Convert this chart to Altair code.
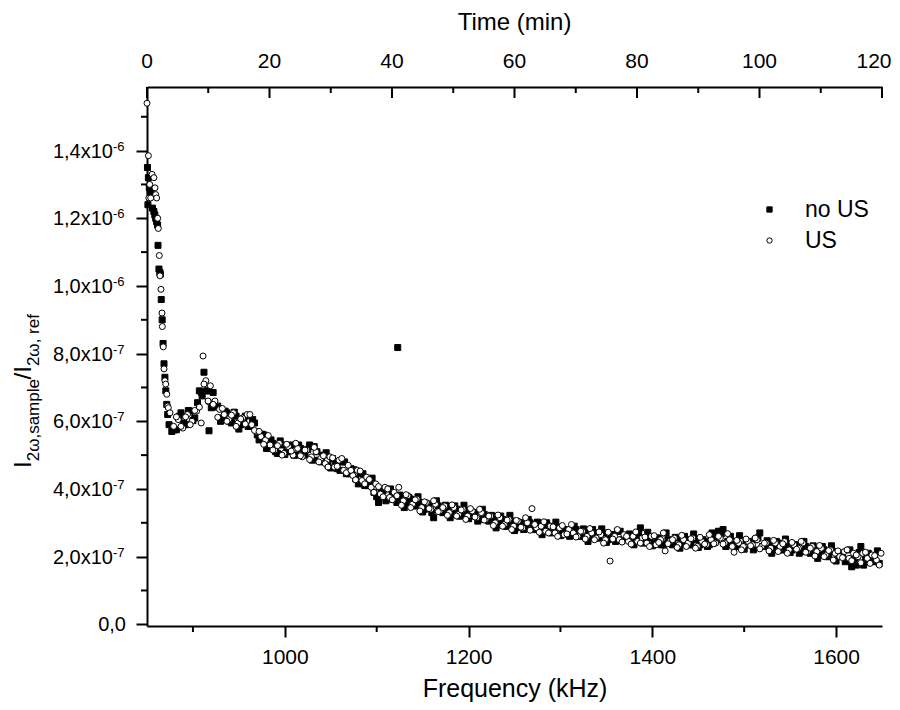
import altair as alt
import pandas as pd

FONT = "Liberation Sans"

# ---------------- data (ratio values in units of 1e-7) ----------------
series_names = ["no US", "US"]

noUS_start_f = [850.5, 851, 851.5, 852.5, 853.5, 855, 856, 857.5, 858.5, 859.5,
                860.5, 861.5, 862, 863, 864, 864.5, 865.5, 866.5, 867.5, 868.5,
                869.5, 870.5, 871.5, 872.5, 874]
noUS_start_v = [13.5, 12.4, 13.2, 12.9, 12.8, 12.7, 12.3, 12.2, 12.1, 12.0,
                11.9, 11.8, 11.2, 10.5, 10.4, 10.35, 9.6, 9.0, 8.3, 7.7,
                7.3, 6.9, 6.5, 6.2, 5.9]
noUS_band_f = list(range(877, 1648, 5))
noUS_band_v = [
    5.70, 5.75, 6.25, 5.90, 6.30, 6.10, 6.90, 7.45, 6.90, 6.85,
    6.45, 6.10, 6.25, 5.95, 6.15, 5.90, 6.15, 5.85, 5.95, 5.45,
    5.60, 5.20, 5.35, 5.05, 5.30, 5.10, 5.30, 5.00, 5.20, 5.00,
    5.30, 5.25, 4.85, 5.00, 4.70, 4.90, 4.60, 4.80, 4.45, 4.60,
    4.30, 4.45, 4.10, 4.20, 3.90, 3.60, 3.95, 3.70, 3.85, 3.60,
    3.75, 3.55, 3.70, 3.50, 3.60, 3.40, 3.55, 3.15, 3.50, 3.30,
    3.45, 3.25, 3.40, 3.20, 3.35, 3.20, 3.30, 3.10, 3.25, 3.05,
    3.15, 2.95, 3.10, 2.90, 3.05, 2.85, 3.00, 2.85, 3.00, 2.80,
    2.95, 2.80, 2.90, 2.75, 2.85, 2.70, 2.80, 2.65, 2.80, 2.60,
    2.75, 2.60, 2.70, 2.55, 2.70, 2.50, 2.65, 2.75, 2.50, 2.60,
    2.45, 2.60, 2.85, 2.45, 2.55, 2.40, 2.55, 2.35, 2.50, 2.35,
    2.55, 2.40, 2.50, 2.35, 2.50, 2.35, 2.45, 2.35, 2.60, 2.75,
    2.80, 2.45, 2.35, 2.45, 2.30, 2.45, 2.35, 2.50, 2.70, 2.30,
    2.40, 2.25, 2.40, 2.20, 2.35, 2.20, 2.35, 2.15, 2.30, 2.10,
    2.25, 2.05, 2.20, 2.00, 2.15, 2.00, 2.10, 1.90, 1.70, 1.75,
    2.30, 1.95, 1.85, 2.00, 1.80,
]
noUS_band2_f = list(range(880, 1646, 5))
noUS_band2_v = [
    5.75, 6.15, 5.95, 6.32, 6.02, 6.55, 6.75, 6.90, 6.40, 6.42,
    6.00, 6.30, 6.00, 6.27, 5.77, 6.05, 5.85, 6.05, 5.60, 5.62,
    5.20, 5.45, 5.10, 5.42, 5.02, 5.25, 5.00, 5.30, 5.05, 5.17,
    4.85, 5.10, 4.80, 5.07, 4.62, 4.80, 4.55, 4.80, 4.45, 4.57,
    4.15, 4.45, 4.10, 4.32, 3.77, 3.90, 3.65, 4.00, 3.70, 3.82,
    3.45, 3.75, 3.50, 3.77, 3.32, 3.55, 3.30, 3.65, 3.35, 3.52,
    3.15, 3.50, 3.20, 3.52, 3.12, 3.30, 3.05, 3.40, 3.10, 3.22,
    2.85, 3.20, 2.90, 3.22, 2.77, 3.00, 2.80, 3.10, 2.85, 3.02,
    2.65, 3.00, 2.70, 3.02, 2.62, 2.80, 2.60, 2.90, 2.65, 2.82,
    2.45, 2.80, 2.55, 2.82, 2.42, 2.65, 2.45, 2.75, 2.50, 2.67,
    2.35, 2.70, 2.40, 2.72, 2.32, 2.55, 2.35, 2.70, 2.40, 2.57,
    2.25, 2.60, 2.35, 2.67, 2.27, 2.50, 2.30, 2.70, 2.50, 2.67,
    2.30, 2.60, 2.30, 2.62, 2.22, 2.45, 2.20, 2.55, 2.30, 2.47,
    2.10, 2.45, 2.20, 2.52, 2.12, 2.35, 2.10, 2.45, 2.15, 2.32,
    1.95, 2.30, 2.00, 2.32, 1.87, 2.10, 1.85, 2.20, 1.95, 2.12,
    1.75, 2.10, 1.85, 2.17,
]
noUS_extra_f = [909.5, 917.5, 1122.9]
noUS_extra_v = [6.85, 5.72, 8.18]

US_start_f = [850, 851.5, 852, 853, 854, 855.5, 857.5, 858.7, 859.5, 860.5,
              861.6, 862.3, 863.4, 864.1, 865.2, 866.3, 866.7, 867.7, 868.5, 869.5,
              870.4, 871.5, 872.5, 873.2, 875]
US_start_v = [15.4, 13.85, 12.6, 13.0, 12.6, 13.3, 13.2, 12.9, 12.7, 12.6,
              12.0, 11.7, 10.9, 10.3, 9.9, 9.2, 8.8, 8.2, 7.55, 7.2,
              7.1, 6.8, 6.45, 6.4, 6.25]
US_band_f = list(range(879, 1650, 5))
US_band_v = [
    5.85, 6.05, 5.80, 6.20, 6.00, 6.30, 5.95, 7.20, 7.05, 6.60,
    6.35, 6.20, 6.05, 6.25, 5.95, 6.10, 6.20, 5.90, 5.70, 5.55,
    5.45, 5.30, 5.15, 5.35, 5.05, 5.25, 5.00, 5.20, 4.95, 5.15,
    4.95, 5.10, 4.90, 4.75, 4.95, 4.65, 4.85, 4.55, 4.70, 4.40,
    4.55, 4.25, 4.35, 4.05, 4.15, 3.85, 4.05, 3.75, 3.90, 4.05,
    3.65, 3.80, 3.55, 3.70, 3.45, 3.60, 3.40, 3.55, 3.35, 3.50,
    3.30, 3.45, 3.25, 3.40, 3.20, 3.35, 3.15, 3.30, 3.10, 3.20,
    3.00, 3.15, 2.95, 3.10, 2.90, 3.05, 2.85, 3.00, 3.42, 2.85,
    2.90, 2.75, 2.90, 2.70, 2.85, 2.65, 2.80, 2.70, 2.60, 2.75,
    2.60, 2.70, 2.55, 2.65, 2.50, 1.87, 2.60, 2.50, 2.65, 2.45,
    2.60, 2.45, 2.55, 2.40, 2.60, 2.35, 2.50, 2.17, 2.45, 2.55,
    2.35, 2.50, 2.40, 2.55, 2.30, 2.45, 2.35, 2.50, 2.40, 2.55,
    2.40, 2.50, 2.13, 2.40, 2.30, 2.45, 2.35, 2.50, 2.30, 2.40,
    2.25, 2.40, 2.30, 2.45, 2.20, 2.35, 2.25, 2.40, 2.15, 2.30,
    2.15, 2.25, 2.05, 2.20, 2.10, 2.00, 2.15, 1.95, 2.10, 2.00,
    2.10, 1.95, 2.05, 1.90, 2.10,
]
US_band2_f = list(range(882, 1648, 5))
US_band2_v = [
    6.13, 5.85, 6.13, 5.90, 6.32, 6.42, 7.10, 6.58, 6.50, 6.12,
    6.38, 6.00, 6.18, 5.85, 6.07, 5.92, 6.20, 5.73, 5.70, 5.32,
    5.58, 5.15, 5.28, 5.00, 5.32, 5.12, 5.35, 4.98, 5.15, 4.87,
    5.23, 4.80, 4.98, 4.65, 4.92, 4.67, 4.90, 4.48, 4.55, 4.27,
    4.53, 4.15, 4.28, 3.90, 4.07, 3.77, 4.00, 3.68, 3.80, 3.52,
    3.83, 3.45, 3.68, 3.35, 3.62, 3.42, 3.65, 3.33, 3.45, 3.22,
    3.53, 3.20, 3.38, 3.10, 3.42, 3.17, 3.40, 3.08, 3.20, 2.92,
    3.23, 2.90, 3.08, 2.80, 3.07, 2.87, 3.15, 2.78, 2.95, 2.72,
    3.03, 2.70, 2.88, 2.60, 2.92, 2.67, 2.95, 2.58, 2.75, 2.52,
    2.83, 2.50, 2.73, 2.40, 2.72, 2.52, 2.80, 2.43, 2.60, 2.37,
    2.73, 2.40, 2.58, 2.30, 2.62, 2.42, 2.70, 2.38, 2.50, 2.27,
    2.63, 2.30, 2.53, 2.25, 2.57, 2.37, 2.65, 2.38, 2.60, 2.37,
    2.68, 2.30, 2.48, 2.20, 2.52, 2.32, 2.55, 2.23, 2.40, 2.17,
    2.48, 2.15, 2.38, 2.10, 2.42, 2.22, 2.45, 2.13, 2.25, 2.02,
    2.33, 2.00, 2.18, 1.90, 2.17, 1.97, 2.20, 1.88, 2.05, 1.82,
    2.13, 1.80, 2.03, 1.75,
]
US_extra_f = [911, 916.5]
US_extra_v = [7.93, 6.6]

# axis tick values and labels
freq_major = [1000, 1200, 1400, 1600]
freq_minor = [900, 1100, 1300, 1500]
time_major = [0, 20, 40, 60, 80, 100, 120]
time_labels = ["0", "20", "40", "60", "80", "100", "120"]
time_minor = [10, 30, 50, 70, 90, 110]
y_major = [0.0, 2e-7, 4e-7, 6e-7, 8e-7, 1.0e-6, 1.2e-6, 1.4e-6]
y_minor = [1e-7, 3e-7, 5e-7, 7e-7, 9e-7, 1.1e-6, 1.3e-6, 1.5e-6]
y_mant = ["0,0", "2,0x10", "4,0x10", "6,0x10", "8,0x10", "1,0x10", "1,2x10", "1,4x10"]
y_exp = ["", "-7", "-7", "-7", "-7", "-6", "-6", "-6"]
ytitle_parts = ["I", "2\u03c9,sample", "/", "I", "2\u03c9, ref"]
top_title = "Time (min)"

x_domain = [850, 1650]
time_domain = [0, 120]
y_domain = [-0.05e-7, 15.88e-7]

# ---------------- tables ----------------
rows = []
for name, fs, vs in [
    ("no US",
     noUS_start_f + noUS_band_f + noUS_band2_f + noUS_extra_f,
     noUS_start_v + noUS_band_v + noUS_band2_v + noUS_extra_v),
    ("US",
     US_start_f + US_band_f + US_band2_f + US_extra_f,
     US_start_v + US_band_v + US_band2_v + US_extra_v),
]:
    for f, v in zip(fs, vs):
        rows.append({"freq": f, "ratio": v * 1e-7, "series": name})
df = pd.DataFrame(rows)

ylab = pd.DataFrame({"ratio": y_major, "mant": y_mant, "exp": y_exp})
tlab = pd.DataFrame({"t": time_major, "lab": time_labels})

W, H = 735, 539
xs = alt.Scale(domain=x_domain, nice=False, zero=False)
ys = alt.Scale(domain=y_domain, nice=False, zero=False)
ts = alt.Scale(domain=time_domain, nice=False, zero=False)
XT = "Frequency (kHz)"

points = alt.Chart(df).mark_point(filled=True, size=36, strokeWidth=1, opacity=1).encode(
    x=alt.X("freq:Q", scale=xs, title=XT,
            axis=alt.Axis(values=freq_major, format="d", tickSize=11, labelPadding=9,
                          labelFontSize=21, labelFlush=False, labelOverlap=False,
                          titleFontSize=25, titlePadding=9, titleFontWeight="normal")),
    y=alt.Y("ratio:Q", scale=ys, title=None,
            axis=alt.Axis(values=y_major, tickSize=11, labels=False)),
    shape=alt.Shape("series:N", scale=alt.Scale(domain=series_names, range=["square", "circle"]),
                    legend=alt.Legend(title=None)),
    fill=alt.Fill("series:N", scale=alt.Scale(domain=series_names, range=["black", "white"]),
                  legend=alt.Legend(title=None)),
    stroke=alt.Stroke("series:N", scale=alt.Scale(domain=series_names, range=["black", "black"]),
                      legend=alt.Legend(title=None)),
)

x_minor = alt.Chart(pd.DataFrame({"freq": freq_minor})).mark_rule(color="black", strokeWidth=2).encode(
    x=alt.X("freq:Q", scale=xs, title=XT), y=alt.value(H), y2=alt.value(H + 6))

y_minor_l = alt.Chart(pd.DataFrame({"ratio": y_minor})).mark_rule(color="black", strokeWidth=2).encode(
    y=alt.Y("ratio:Q", scale=ys, title=None), x=alt.value(-6), x2=alt.value(0))

ylab_main = alt.Chart(ylab).transform_filter("datum.exp != ''").mark_text(
    align="right", baseline="middle", fontSize=20, font=FONT, color="black", dy=1).encode(
    y=alt.Y("ratio:Q", scale=ys, title=None), x=alt.value(-34), text="mant:N")
ylab_zero = alt.Chart(ylab).transform_filter("datum.exp == ''").mark_text(
    align="right", baseline="middle", fontSize=20, font=FONT, color="black", dy=1).encode(
    y=alt.Y("ratio:Q", scale=ys, title=None), x=alt.value(-21), text="mant:N")
ylab_exp = alt.Chart(ylab).transform_filter("datum.exp != ''").mark_text(
    align="left", baseline="middle", fontSize=13, font=FONT, color="black", dy=-4).encode(
    y=alt.Y("ratio:Q", scale=ys, title=None), x=alt.value(-34), text="exp:N")

# rotated y title, composed of main text and subscripts
title_layout = [(24, -116.5, 381), (17, -108, 374.3), (24, -116.5, 292.5), (24, -116.5, 285.8), (17, -108, 279.1)]
title_layers = []
for part, (fsz, xx, yy) in zip(ytitle_parts, title_layout):
    title_layers.append(
        alt.Chart(pd.DataFrame({"part": [part]})).mark_text(
            angle=270, align="left", baseline="alphabetic", fontSize=fsz, font=FONT, color="black").encode(
            x=alt.value(xx), y=alt.value(yy), text="part:N"))

main = alt.layer(points, x_minor, y_minor_l, ylab_main, ylab_zero, ylab_exp, *title_layers)

# top (time) axis: inward ticks, labels and title
top_major = alt.Chart(pd.DataFrame({"t": time_major})).mark_rule(color="black", strokeWidth=2).encode(
    x=alt.X("t:Q", scale=ts, title=None,
            axis=alt.Axis(orient="top", values=time_major, ticks=False, labels=False)),
    y=alt.value(0), y2=alt.value(11))
top_minor = alt.Chart(pd.DataFrame({"t": time_minor})).mark_rule(color="black", strokeWidth=2).encode(
    x=alt.X("t:Q", scale=ts, title=None), y=alt.value(0), y2=alt.value(6))
top_labels = alt.Chart(tlab).transform_filter("datum.t < 120").mark_text(
    align="center", baseline="alphabetic", fontSize=21, font=FONT, color="black").encode(
    x=alt.X("t:Q", scale=ts, title=None), y=alt.value(-19), text="lab:N")
top_label_end = alt.Chart(tlab).transform_filter("datum.t == 120").mark_text(
    align="center", baseline="alphabetic", fontSize=21, font=FONT, color="black", dx=-8).encode(
    x=alt.X("t:Q", scale=ts, title=None), y=alt.value(-19), text="lab:N")
top_title_t = alt.Chart(pd.DataFrame({"title": [top_title]})).mark_text(
    align="center", baseline="alphabetic", fontSize=24, font=FONT, color="black").encode(
    x=alt.value(W / 2), y=alt.value(-57), text="title:N")
top = alt.layer(top_major, top_minor, top_labels, top_label_end, top_title_t)

chart = alt.layer(main, top).resolve_scale(x="independent").properties(
    width=W, height=H,
    autosize=alt.AutoSizeParams(type="none"),
    padding={"left": 139, "top": 79, "right": 10, "bottom": 76},
).configure(font=FONT).configure_view(stroke=None).configure_axis(
    grid=False, domainColor="black", domainWidth=2, tickColor="black", tickWidth=2,
    labelColor="black", titleColor="black", labelFont=FONT, titleFont=FONT,
).configure_legend(
    orient="none", legendX=611, legendY=111, labelFontSize=23, labelFont=FONT,
    labelColor="black", symbolSize=28, symbolStrokeWidth=1, labelOffset=24, rowPadding=7,
)

chart.save("out.html", embed_options={"renderer": "svg", "actions": False})
